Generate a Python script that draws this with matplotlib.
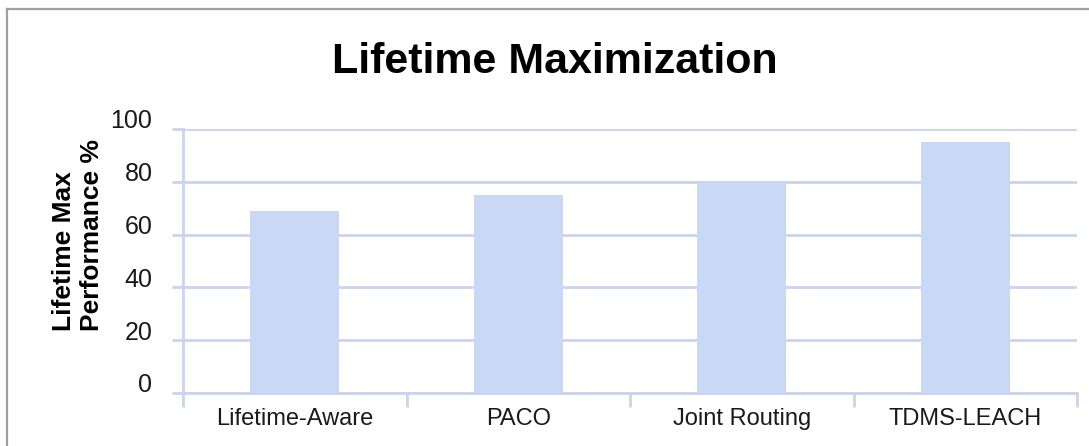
"""
Lifetime Maximization bar chart
"""

import matplotlib
matplotlib.use('Agg')
import matplotlib.pyplot as plt
import matplotlib.transforms as mtransforms
from matplotlib.lines import Line2D

# data
categories = ['Lifetime-Aware', 'PACO', 'Joint Routing', 'TDMS-LEACH']
performance = [69, 75, 79.5, 95]
y_ticks = [0, 20, 40, 60, 80, 100]

GRID_COLOR = '#c9d5f0'
BAR_COLOR = '#c9d8f4'

plt.rcParams['font.family'] = ['Liberation Sans', 'DejaVu Sans']

W, H = 1089, 446
fig = plt.figure(figsize=(W / 100, H / 100), dpi=100)

# axes in pixel coordinates: left 183, right 1077, top 129, bottom 393
ax = fig.add_axes([183 / W, 1 - 393 / H, (1077 - 183) / W, (393 - 129) / H])

x = list(range(len(categories)))
ax.bar(x, performance, width=0.40, color=BAR_COLOR, edgecolor='none', zorder=3)

ax.set_xlim(-0.5, len(categories) - 0.5)
ax.set_ylim(0, 100)

# y axis
ax.set_yticks(y_ticks)
ax.set_yticklabels([str(v) for v in y_ticks], fontsize=18, color='#1a1a1a')
ax.tick_params(axis='y', length=8, width=2, color=GRID_COLOR, pad=14)
ax.yaxis.grid(True, color=GRID_COLOR, linewidth=2, zorder=0)
ax.set_axisbelow(True)

# shift y labels up a bit like the original
offset = mtransforms.ScaledTranslation(0, 10 / 100, fig.dpi_scale_trans)
for lab in ax.get_yticklabels():
    lab.set_transform(lab.get_transform() + offset)

# x axis: labels at centres, tick marks at category boundaries
ax.set_xticks(x)
ax.set_xticklabels(categories, fontsize=17, color='#1a1a1a')
ax.tick_params(axis='x', which='major', length=0, pad=11)
ax.set_xticks([i - 0.5 for i in range(len(categories) + 1)], minor=True)
ax.tick_params(axis='x', which='minor', length=10, width=2, color=GRID_COLOR)

for side in ['top', 'right']:
    ax.spines[side].set_visible(False)
for side in ['left', 'bottom']:
    ax.spines[side].set_color(GRID_COLOR)
    ax.spines[side].set_linewidth(2)

# title and y label
fig.text(555 / W, 1 - 73 / H, 'Lifetime Maximization', fontsize=31,
         fontweight='bold', ha='center', va='baseline')
fig.text(78 / W, 1 - 331 / H, 'Lifetime Max\nPerformance %', fontsize=19,
         fontweight='bold', rotation=90, ha='center', va='bottom',
         multialignment='left', linespacing=1.2)

# grey frame on top and left
fig.add_artist(Line2D([7 / W, 7 / W], [0, 1 - 8.5 / H], transform=fig.transFigure,
                      color='#a0a0a0', linewidth=1.6))
fig.add_artist(Line2D([7 / W, 1], [1 - 8.5 / H, 1 - 8.5 / H], transform=fig.transFigure,
                      color='#a0a0a0', linewidth=1.6))

fig.savefig('out.png', dpi=100)
plt.close(fig)
